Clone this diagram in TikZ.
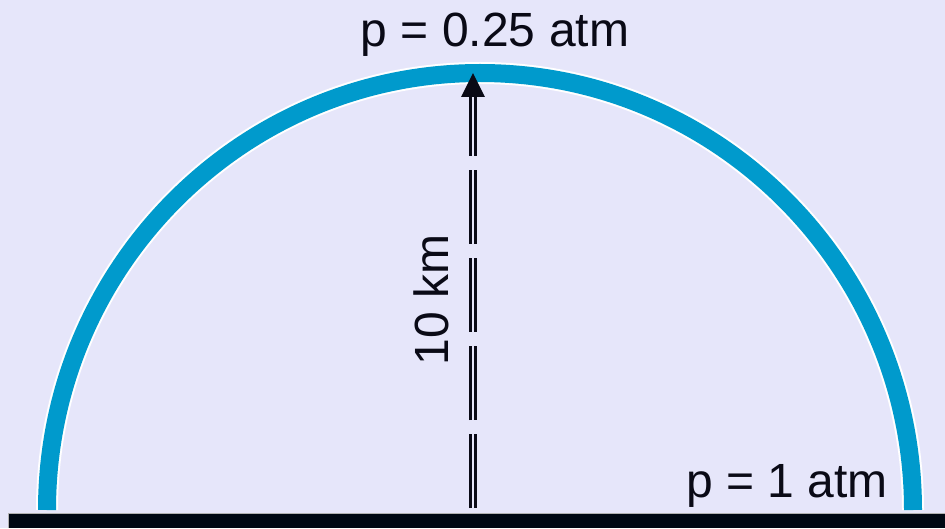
\documentclass[tikz,border=0pt]{standalone}
\usepackage{fontspec}
\setmainfont{Liberation Sans}
\usetikzlibrary{arrows.meta}
\definecolor{bg}{HTML}{E6E6FA}
\definecolor{arcblue}{HTML}{009ACC}
\definecolor{ground}{HTML}{000814}
\definecolor{ink}{HTML}{0A0A16}
\tikzset{
  lbl/.style={text=ink, inner sep=0pt, font=\fontsize{48}{58}\selectfont},
  heightarrow/.style={draw=ink, line width=3pt, double=bg, double distance=2pt,
     dash pattern=on 74pt off 14pt,
     -{Triangle[width=23pt,length=24pt]}},
  domeouter/.style={draw=white, line width=22pt},
  domeinner/.style={draw=arcblue, line width=18pt},
}
\begin{document}
\begin{tikzpicture}[x=1pt,y=1pt]
\useasboundingbox (0,0) rectangle (945,528);
\fill[bg] (0,0) rectangle (945,528);
% dome
\draw[domeouter] (47,18) arc[start angle=180,end angle=0,x radius=433,y radius=437];
\draw[domeinner] (47,18) arc[start angle=180,end angle=0,x radius=433,y radius=437];
% ground
\fill[ground] (8,0) rectangle (945,15);
\draw[gray!60, line width=0.6pt] (8,0) -- (8,15) -- (945,15);
% height arrow
\coordinate (base) at (473,20);
\coordinate (apex) at (473,455);
\draw[heightarrow] (base) -- (apex);
% labels
\node[lbl, anchor=base] (ptop) at (495,481) {p = 0.25 atm};
\node[lbl, anchor=base] (pbot) at (787,31) {p = 1 atm};
\node[lbl, anchor=base, rotate=90] (h) at (448,228) {10 km};
\end{tikzpicture}
\end{document}
